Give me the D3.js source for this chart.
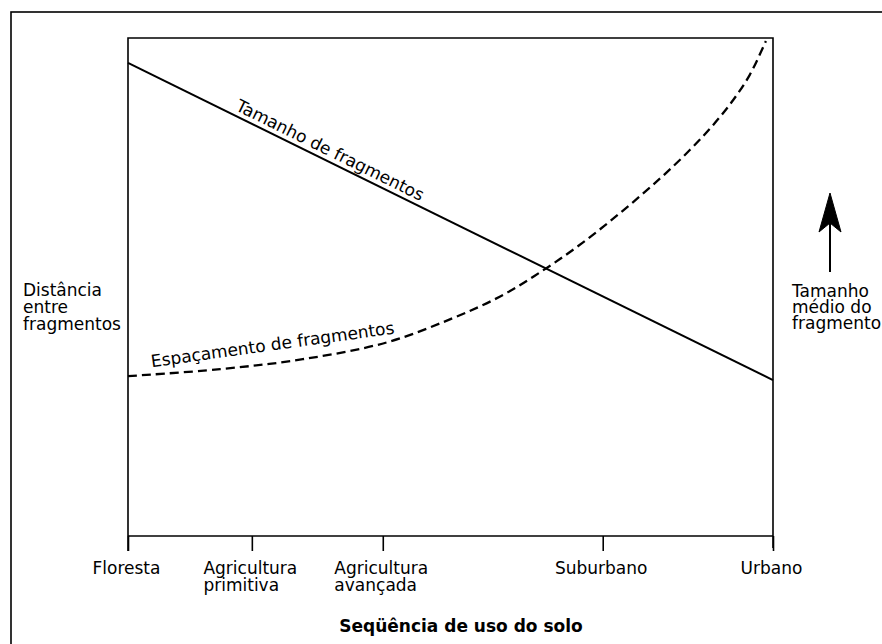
<!DOCTYPE html>
<html>
<head>
<meta charset="utf-8">
<script src="https://cdn.jsdelivr.net/npm/d3@7"></script>
<style>
  html, body { margin: 0; padding: 0; background: #fff; }
  svg { display: block; font-family: "DejaVu Sans", sans-serif; }
</style>
</head>
<body>
<svg id="chart" width="882" height="644"></svg>
<script>
// ---- data ----
const categories = ["Floresta", "Agricultura\nprimitiva", "Agricultura\navançada", "Suburbano", "Urbano"];
const categoryPos = [0, 1.92, 3.95, 7.36, 10];

const sizeX = [0, 10];
const sizeY = [9.5, 3.13];

const spacingX = [0, 1.43, 2.71, 4.02, 4.99, 5.77, 6.43, 7.05, 7.67, 8.25, 8.71, 9.07, 9.38, 9.64, 9.89];
const spacingY = [3.21, 3.35, 3.55, 3.89, 4.35, 4.81, 5.33, 5.89, 6.53, 7.18, 7.75, 8.25, 8.75, 9.26, 9.94];

const sizeLabel = "Tamanho de fragmentos";
const spacingLabel = "Espaçamento de fragmentos";
const leftLabel = ["Distância", "entre", "fragmentos"];
const rightLabel = ["Tamanho", "médio do", "fragmento"];
const xTitle = "Seqüência de uso do solo";

// ---- layout ----
const svg = d3.select("#chart");
const plot = { left: 128, right: 773, top: 38, bottom: 536 };
const FS = 17;

const x = d3.scaleLinear().domain([0, 10]).range([plot.left, plot.right]);
const y = d3.scaleLinear().domain([0, 10]).range([plot.bottom, plot.top]);

// outer border
svg.append("rect")
  .attr("x", 11).attr("y", 12)
  .attr("width", 900).attr("height", 700)
  .attr("fill", "none").attr("stroke", "#000").attr("stroke-width", 1.6);

// frame: left, top, right
svg.append("path")
  .attr("d", `M${plot.left},${plot.bottom + 15} V${plot.top} H${plot.right} V${plot.bottom + 12}`)
  .attr("fill", "none").attr("stroke", "#000").attr("stroke-width", 1.6);

// x axis
const xAxis = d3.axisBottom(x)
  .tickValues(categoryPos)
  .tickSize(15)
  .tickFormat("");
const gx = svg.append("g")
  .attr("transform", `translate(0,${plot.bottom})`)
  .call(xAxis);
gx.select(".domain").attr("stroke", "#000").attr("stroke-width", 1.6).attr("d", `M${plot.left},0H${plot.right}`);
gx.selectAll(".tick line").attr("stroke", "#000").attr("stroke-width", 1.6);

// tick labels (multi-line, left-aligned block centred on tick)
categories.forEach((c, i) => {
  const lines = c.split("\n");
  const t = svg.append("text")
    .attr("font-size", FS)
    .attr("fill", "#000");
  lines.forEach((ln, j) => {
    t.append("tspan").attr("x", 0).attr("y", 574 + j * 17).text(ln);
  });
  const w = t.node().getBBox().width;
  t.attr("transform", `translate(${x(categoryPos[i]) - w / 2 - 1.5},0)`);
});

// x title
svg.append("text")
  .attr("x", 461).attr("y", 632)
  .attr("text-anchor", "middle")
  .attr("font-size", 17).attr("font-weight", "bold")
  .text(xTitle);

// lines
const line = d3.line().x(d => x(d[0])).y(d => y(d[1]));
svg.append("path")
  .datum(sizeX.map((v, i) => [v, sizeY[i]]))
  .attr("d", line)
  .attr("fill", "none").attr("stroke", "#000").attr("stroke-width", 2);

svg.append("path")
  .datum(spacingX.map((v, i) => [v, spacingY[i]]))
  .attr("d", d3.line().x(d => x(d[0])).y(d => y(d[1])).curve(d3.curveCatmullRom.alpha(0.5)))
  .attr("fill", "none").attr("stroke", "#000").attr("stroke-width", 2.3)
  .attr("stroke-dasharray", "9,5");

// label along solid line
{
  const ang = Math.atan2(y(sizeY[1]) - y(sizeY[0]), x(sizeX[1]) - x(sizeX[0])) * 180 / Math.PI;
  const lx = 3.06;
  const ly = sizeY[0] + (sizeY[1] - sizeY[0]) * lx / 10;
  svg.append("text")
    .attr("transform", `translate(${x(lx)},${y(ly)}) rotate(${ang})`)
    .attr("dy", -5)
    .attr("text-anchor", "middle")
    .attr("font-size", FS)
    .text(sizeLabel);
}

// label on dashed curve
svg.append("text")
  .attr("transform", `translate(${x(0.37)},${y(3.39)}) rotate(-7.9)`)
  .attr("font-size", FS)
  .text(spacingLabel);

// side labels
const ll = svg.append("text").attr("font-size", FS);
leftLabel.forEach((s, j) => ll.append("tspan").attr("x", 23).attr("y", 296 + j * 17).text(s));
const rl = svg.append("text").attr("font-size", FS);
rightLabel.forEach((s, j) => rl.append("tspan").attr("x", 792).attr("y", 297 + j * 16).text(s));

// arrow
svg.append("line")
  .attr("x1", 830).attr("y1", 272).attr("x2", 830).attr("y2", 222)
  .attr("stroke", "#000").attr("stroke-width", 2);
svg.append("path")
  .attr("d", "M830,193 L841,232 L830,223 L819,232 Z")
  .attr("fill", "#000").attr("stroke", "#000").attr("stroke-width", 1)
  .attr("stroke-linejoin", "miter");
</script>
</body>
</html>
